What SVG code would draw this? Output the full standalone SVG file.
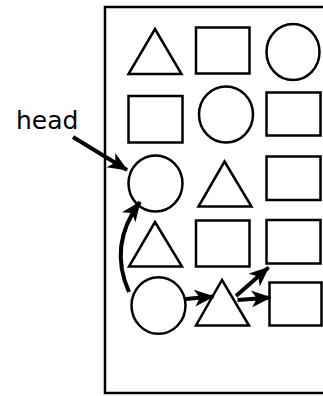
<svg xmlns="http://www.w3.org/2000/svg" width="323" height="396" viewBox="0 0 323 396">
<style>
.s{fill:#fff;stroke:#000;stroke-width:2.5}
.c{fill:none;stroke:#000;stroke-width:4}
.t{font-family:"DejaVu Sans",sans-serif;font-size:25px;fill:#000}
</style>
<defs>
<marker id="ah" markerUnits="userSpaceOnUse" markerWidth="20" markerHeight="18" refX="18" refY="8" orient="auto" viewBox="0 0 19 16">
<path d="M0,0 L19,8 L0,16 L5,8 Z" fill="#000"/>
</marker>
</defs>
<rect x="105" y="7" width="240" height="386" fill="#fff" stroke="#000" stroke-width="2.5"/>
<g id="n1"><polygon class="s" points="155,29 181.5,74 128.5,74"/></g>
<g id="n2"><rect class="s" x="196" y="27.5" width="53.5" height="46"/></g>
<g id="n3"><ellipse class="s" cx="293" cy="52" rx="26.5" ry="28"/></g>
<g id="n4"><rect class="s" x="128.5" y="96" width="54" height="46.5"/></g>
<g id="n5"><ellipse class="s" cx="226" cy="114.5" rx="27" ry="28"/></g>
<g id="n6"><rect class="s" x="266.5" y="92.5" width="54" height="43"/></g>
<g id="n7"><ellipse class="s" cx="155.5" cy="183.5" rx="27" ry="28"/></g>
<g id="n8"><polygon class="s" points="224.5,161.5 251.5,206.5 198.5,206.5"/></g>
<g id="n9"><rect class="s" x="266.5" y="156.5" width="54" height="43.5"/></g>
<g id="n10"><polygon class="s" points="155,222 182,266.5 129,266.5"/></g>
<g id="n11"><rect class="s" x="196" y="220.5" width="53.5" height="46"/></g>
<g id="n12"><rect class="s" x="266.5" y="220" width="54" height="43.5"/></g>
<g id="n13"><ellipse class="s" cx="158.5" cy="305.5" rx="27" ry="28.3"/></g>
<g id="n14"><polygon class="s" points="222,280 249,325.5 196,325.5"/></g>
<g id="n15"><rect class="s" x="269.5" y="282.5" width="52" height="43"/></g>
<g id="head"><text class="t" x="16" y="129">head</text></g>
<g id="connectors">
<path class="c" d="M73,137 L127,170" marker-end="url(#ah)"/>
<path class="c" d="M129,292 Q108,245 140,202" marker-end="url(#ah)"/>
<path class="c" d="M185.5,299 L213.5,296.5" marker-end="url(#ah)"/>
<path class="c" d="M236,296 L268.5,267.5" marker-end="url(#ah)"/>
<path class="c" d="M237.5,300 L270.5,297.5" marker-end="url(#ah)"/>
</g>
</svg>
